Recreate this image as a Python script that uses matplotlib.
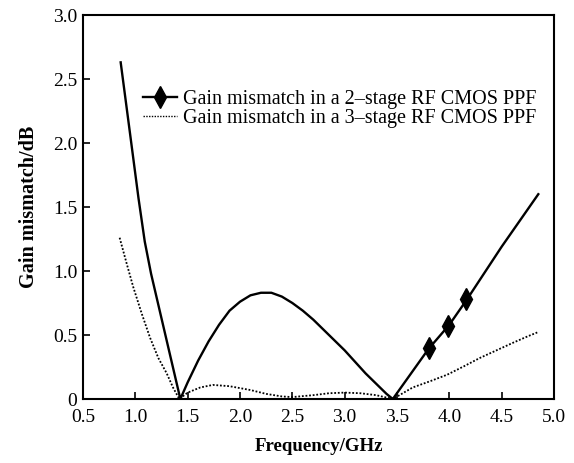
"""Gain mismatch vs frequency"""

import matplotlib.pyplot as plt

freq2 = [0.86, 0.95, 1.03, 1.09, 1.15, 1.25, 1.35, 1.43,
         1.5, 1.6, 1.7, 1.8, 1.9, 2.0, 2.1, 2.2, 2.3, 2.4, 2.5, 2.6,
         2.7, 2.8, 2.9, 3.0, 3.1, 3.2, 3.3, 3.4, 3.46,
         3.8, 4.0, 4.17, 4.5, 4.85]
gain2 = [2.63, 2.07, 1.57, 1.23, 0.98, 0.63, 0.28, 0.0,
         0.13, 0.30, 0.45, 0.58, 0.69, 0.76, 0.81, 0.83, 0.83, 0.80, 0.75,
         0.69, 0.62, 0.54, 0.46, 0.38, 0.29, 0.20, 0.12, 0.04, 0.0,
         0.39, 0.58, 0.78, 1.19, 1.60]
markFreq = [3.81, 3.99, 4.16]
markGain = [0.40, 0.57, 0.78]

freq3 = [0.85, 0.92, 0.98, 1.06, 1.14, 1.22, 1.30, 1.36, 1.42,
         1.5, 1.62, 1.74, 1.9, 2.1, 2.25, 2.4, 2.5, 2.7, 2.85, 3.0,
         3.15, 3.3, 3.46, 3.65, 3.82, 3.98, 4.15, 4.29, 4.45, 4.61,
         4.75, 4.84]
gain3 = [1.26, 1.05, 0.875, 0.67, 0.48, 0.32, 0.20, 0.09, 0.0,
         0.05, 0.09, 0.11, 0.10, 0.07, 0.04, 0.02, 0.015, 0.03, 0.045, 0.05,
         0.045, 0.03, 0.0, 0.09, 0.14, 0.19, 0.26, 0.32, 0.38, 0.44,
         0.49, 0.52]

xTicks = [0.5, 1.0, 1.5, 2.0, 2.5, 3.0, 3.5, 4.0, 4.5, 5.0]
xLabels = ['0.5', '1.0', '1.5', '2.0', '2.5', '3.0', '3.5', '4.0', '4.5',
           '5.0']
yTicks = [0, 0.5, 1.0, 1.5, 2.0, 2.5, 3.0]
yLabels = ['0', '0.5', '1.0', '1.5', '2.0', '2.5', '3.0']
legendLabels = ['Gain mismatch in a 2\u2013stage RF CMOS PPF',
                'Gain mismatch in a 3\u2013stage RF CMOS PPF']


def main():
    """Main function"""
    plt.rcParams['font.family'] = ['Liberation Serif']
    fig = plt.figure(figsize=(5.74, 4.63), dpi=100)
    ax = fig.add_axes([83 / 574, 1 - 399 / 463, 471 / 574, 384 / 463])

    ax.plot(freq2, gain2, color='black', lw=1.7)
    ax.plot(freq3, gain3, color='black', lw=1.3, ls=(0, (1, 1)))
    ax.plot(markFreq, markGain, ls='none', marker='d', color='black',
            markersize=11)

    # legend proxies
    h1, = ax.plot([], [], color='black', lw=1.7, marker='d', markersize=11)
    h2, = ax.plot([], [], color='black', lw=1.0, ls=(0, (1, 1)))

    ax.set_xlim(0.5, 5.0)
    ax.set_ylim(0, 3.0)
    ax.set_xticks(xTicks)
    ax.set_xticklabels(xLabels)
    ax.set_yticks(yTicks)
    ax.set_yticklabels(yLabels)
    ax.tick_params(direction='in', length=5, width=1.2, labelsize=14)
    ax.tick_params(axis='x', pad=7)
    ax.tick_params(axis='y', pad=4)
    for s in ax.spines.values():
        s.set_linewidth(1.5)

    ax.set_xlabel('Frequency/GHz', fontsize=13.6, fontweight='bold',
                  labelpad=9)
    ax.set_ylabel('Gain mismatch/dB', fontsize=14.5, fontweight='bold',
                  labelpad=10)

    ax.legend([h1, h2], legendLabels, loc='upper left',
              bbox_to_anchor=(0.127, 0.805), frameon=False, fontsize=14.5,
              handlelength=1.7, handletextpad=0.3, labelspacing=0.0,
              borderaxespad=0, borderpad=0)

    plt.savefig('out.png', dpi=100)


if __name__ == "__main__":
    main()
